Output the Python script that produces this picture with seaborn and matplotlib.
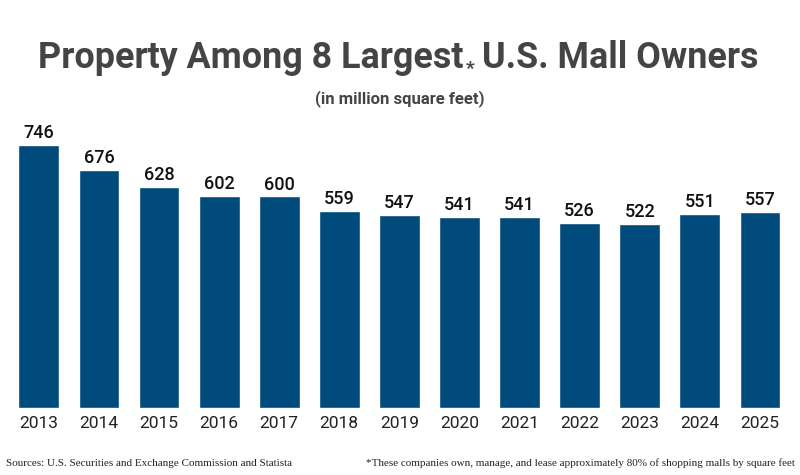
import matplotlib
matplotlib.use("Agg")
import matplotlib.pyplot as plt
import seaborn as sns
import pandas as pd

years = ["2013","2014","2015","2016","2017","2018","2019","2020","2021","2022","2023","2024","2025"]
values = [746,676,628,602,600,559,547,541,541,526,522,551,557]

sns.set_style("white")
plt.rcParams['font.family'] = ['Roboto', 'DejaVu Sans']

fig = plt.figure(figsize=(8, 4.75), dpi=100)
ax = fig.add_axes([0.011, 0.141, 0.9765, 0.594])
df = pd.DataFrame({"year": years, "value": values})
sns.barplot(data=df, x="year", y="value", color="#004a7c", saturation=1, width=0.68, ax=ax)
ax.set_ylim(0, 800)
ax.set_xlim(-0.5, 12.5)
ax.set_xlabel(""); ax.set_ylabel("")
ax.set_yticks([])
for s in ax.spines.values():
    s.set_visible(False)
ax.tick_params(axis='x', length=0, labelsize=12.5, colors="#222222", pad=6)
for i, v in enumerate(values):
    ax.text(i, v + 8, str(v), ha="center", va="bottom", fontsize=13, fontweight="medium", color="#111111")

gray = "#444444"
base = 0.857
t1 = fig.text(0.047, base, "Property Among 8 Largest", fontsize=25.8, fontweight="bold", color=gray, va="baseline")
t2 = fig.text(0, 0, "*", fontsize=14, fontweight="bold", color=gray, va="baseline")
t3 = fig.text(0, 0, "U.S. Mall Owners", fontsize=25.8, fontweight="bold", color=gray, va="baseline")
fig.canvas.draw()
r = fig.canvas.get_renderer()
inv = fig.transFigure.inverted()
b1 = t1.get_window_extent(r)
x1 = inv.transform((b1.x1, 0))[0]
t2.set_position((x1 + 0.003, base - 0.012))
fig.canvas.draw()
b2 = t2.get_window_extent(r)
x2 = inv.transform((b2.x1, 0))[0]
t3.set_position((x2 + 0.01, base))

fig.text(0.5, 0.783, "(in million square feet)", ha="center", fontsize=12, fontweight="bold", color=gray)
fig.text(0.008, 0.02, "Sources: U.S. Securities and Exchange Commission and Statista", fontsize=8,
         family=["Liberation Serif"], color="#222222")
fig.text(0.993, 0.02, "*These companies own, manage, and lease approximately 80% of shopping malls by square feet",
         ha="right", fontsize=8, family=["Liberation Serif"], color="#222222")
fig.savefig("out.png", dpi=100)
